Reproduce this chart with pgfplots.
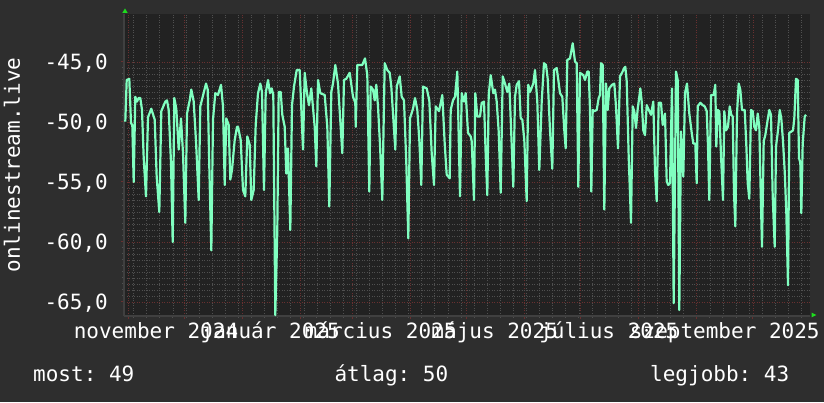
\documentclass[border=0pt]{standalone}
\usepackage{pgfplots}
\pgfplotsset{compat=1.18}
\usepackage{fontspec}
\setmainfont{DejaVu Sans Mono}
\frenchspacing
\definecolor{bgout}{RGB}{46,46,46}
\definecolor{canvas}{RGB}{34,34,34}
\definecolor{linec}{RGB}{128,255,192}
\definecolor{majgrid}{RGB}{105,48,48}
\definecolor{mingrid}{RGB}{80,80,80}
\definecolor{axisc}{RGB}{64,64,64}
\definecolor{arrowc}{RGB}{30,220,30}
\begin{document}
\begin{tikzpicture}[x=1pt,y=1pt]
\fill[bgout] (0,0) rectangle (824,402);
\begin{axis}[
  at={(124pt,86pt)}, anchor=south west,
  scale only axis, width=686pt, height=302pt,
  xmin=124, xmax=810, ymin=-66.17, ymax=-41,
  axis background/.style={fill=canvas},
  axis x line*=bottom, axis y line*=left,
  axis line style={draw=axisc, line width=1.5pt},
  grid=both,
  major grid style={majgrid, dash pattern=on 1pt off 1.5pt, line width=0.7pt},
  minor grid style={mingrid, dash pattern=on 1pt off 1.5pt, line width=0.7pt},
  tick align=outside, major tick length=3pt, minor tick length=2pt,
  major tick style={majgrid, line width=1pt},
  minor tick style={mingrid, line width=1pt},
  xtick={128,184.1,242.1,300.1,352.5,410.5,466.7,524.7,580.8,638.8,696.8,752.9},
  xticklabels={},
  minor xtick={133.61,146.707,...,805},
  extra x ticks={156,270.2,380.6,494.7,608.8,724.8},
  extra x tick labels={november 2024,január 2025,március 2025,május 2025,július 2025,szeptember 2025},
  extra x tick style={grid=none, major tick length=0pt},
  xticklabel style={anchor=base, yshift=-22pt, text=white, font=\fontsize{21}{21}\selectfont},
  ytick={-65,-60,-55,-50,-45},
  yticklabels={{-65,0},{-60,0},{-55,0},{-50,0},{-45,0}},
  minor y tick num=9,
  yticklabel style={anchor=east, inner sep=0pt, xshift=-13pt, yshift=-1.5pt, text=white, font=\fontsize{21}{21}\selectfont},
]
\addplot[linec, line width=2.2pt, line join=round] coordinates {
(125.3,-49.97) (126.7,-46.5) (129.3,-46.4) (131,-50.1) (132.3,-50.25) (133.7,-55.0) (135.3,-47.9) (137,-48.3) (138.7,-48.0) (140.3,-48.0) (142,-49.0) (143.7,-53.0) (146,-56.2) (148,-49.6) (151.3,-48.9) (154.7,-49.8) (156.7,-54.6) (159.3,-57.5) (161.3,-49.1) (165.3,-48.3) (167,-48.2) (168.7,-49.0) (171,-53.4) (172.7,-60.0) (174.3,-48.0) (176.3,-48.9) (178.7,-52.3) (181,-49.7) (183,-52.6) (185.3,-58.4) (187,-49.3) (189.7,-48.2) (191.3,-47.3) (193.7,-48.3) (196,-51.6) (198.7,-56.5) (200.3,-48.7) (202.7,-47.9) (206,-46.8) (207.7,-47.3) (209.3,-53.7) (211.3,-60.7) (213,-49.8) (215.3,-47.6) (218,-47.75) (221,-46.9) (223,-48.7) (224.7,-55.25) (226.3,-49.7) (228.7,-50.25) (230.3,-54.8) (232,-54.0) (234.7,-51.5) (237,-50.4)
(238,-50.4) (240.7,-51.5) (243,-55.67) (245.3,-56.2) (247.3,-51.2) (249.7,-51.9) (251.3,-56.5) (253.7,-55.67) (255.7,-50.25) (258,-47.6) (260.3,-46.8) (262,-47.5) (264,-55.67) (265.7,-47.6) (268,-46.5) (270,-47.6) (271.7,-47.2) (273.3,-47.75) (275.3,-66.1) (277.3,-59.0) (278.7,-47.5) (280.7,-47.5) (282.3,-49.4) (284.7,-50.4) (286.3,-54.3) (288,-52.2) (290.3,-59.0) (292,-48.6) (294,-47.05) (296.7,-45.67) (299.7,-45.67) (303,-52.3) (304.7,-45.9) (307,-47.6) (309,-48.6) (311.3,-47.2) (314.7,-50.4) (316.3,-53.7) (318,-46.5) (320.3,-47.6) (324.7,-47.75) (327.3,-50.4) (329.3,-57.05) (331.3,-47.5) (333,-46.8) (335.3,-45.25) (338,-46.8) (342.3,-52.6) (344,-46.5) (346.3,-46.4) (349.7,-45.9) (353,-47.9) (355.3,-48.4)
(355.7,-50.4) (357.3,-45.25) (362.3,-45.25) (365,-44.7) (367.3,-46.1) (369.3,-55.8) (370.7,-47.05) (373,-47.3) (374.7,-48.2) (376.3,-46.9) (378,-48.7) (380,-51.9) (382.3,-56.5) (384.7,-45.1) (387.3,-45.67) (389.7,-45.9) (391.3,-47.05) (395.3,-52.3) (396.7,-47.05) (399.7,-46.2) (401.7,-47.9) (404,-48.2) (406.3,-53.4) (408.3,-59.7) (410,-49.7) (413,-48.9) (415,-48.0) (417.3,-49.0) (419.3,-51.5) (421.3,-55.25) (423,-47.05) (426.7,-47.2) (429.3,-48.2) (431.7,-52.6) (434,-55.25) (435.7,-48.7) (439,-49.1) (442.3,-47.75) (444.7,-51.8) (446.7,-54.4) (449.7,-54.7) (450.7,-49.0) (453,-48.2) (455,-47.9) (457.3,-45.8) (460,-56.2) (461.7,-47.6) (464,-48.3) (465.7,-47.6) (468,-50.9) (470.7,-51.2)
(471.7,-51.6) (474,-56.5) (475.3,-47.6) (477.3,-49.55) (480,-49.55) (481.7,-48.4) (484,-48.3) (485.7,-52.75) (487.3,-56.1) (488.7,-47.75) (490.7,-46.1) (493.3,-47.6) (495,-47.3) (496.7,-48.3) (498.7,-50.8) (500.7,-55.9) (502.7,-46.2) (505,-46.8) (507.3,-47.5) (509.3,-46.8) (511.7,-51.9) (513.3,-55.4) (515,-47.9) (516.7,-46.9) (519,-46.6) (520.7,-49.7) (522.3,-49.8) (524.3,-51.5) (526.7,-56.6) (528.3,-46.9) (530,-47.5) (533.3,-46.8) (535,-45.67) (537.3,-48.3) (539.3,-54.0) (541.7,-48.3) (544,-45.1) (546,-45.25) (547.7,-46.4) (550,-50.7) (552.3,-53.9) (554,-45.67) (556.7,-45.5) (558.3,-46.5) (560,-47.6) (562.3,-47.9) (564.3,-50.7) (565.7,-52.2) (567.3,-44.83) (570,-44.7) (572.7,-43.44) (575,-44.97) (576.7,-45.1) (578.3,-55.4) (580,-45.9) (583.3,-46.1) (585,-46.5) (587.3,-45.8)
(588.7,-45.8) (590,-49.0) (591.3,-55.8) (592.7,-49.0) (594.3,-49.1) (596.7,-49.0) (598.7,-48.0) (600,-47.75) (601,-45.1) (602.7,-45.25) (604.3,-57.3) (606,-46.8) (607.7,-49.0) (609.3,-47.2) (612,-46.9) (614.3,-46.8) (616,-48.7) (618,-52.2) (620,-46.2) (622,-45.9) (624.3,-45.5) (625.3,-45.4) (626.7,-46.6) (628.7,-52.9) (631,-58.4) (632.7,-48.7) (634.3,-49.1) (636,-50.5) (637.7,-48.9) (639.3,-47.9) (640.3,-47.2) (641.7,-48.3) (643.3,-50.7) (645,-51.1) (646.7,-48.6) (648.3,-48.9) (651,-49.4) (653.3,-48.3) (655,-54.1) (656.7,-56.6) (658.7,-48.4) (661,-48.4) (662.7,-50.25) (665,-49.3) (666.7,-54.97) (668.3,-55.25) (670,-55.1) (672,-47.2) (673.7,-65.1) (676,-45.8) (677.7,-46.5) (679.3,-65.67) (681,-50.8) (683.3,-54.55) (685,-47.6) (687,-46.8) (689.3,-49.3) (691.7,-50.9) (693.3,-51.8) (695.3,-51.8) (696.7,-55.1) (697.7,-48.7) (700.3,-48.4) (702.7,-48.6)
(704.7,-48.7) (706.7,-49.1) (708,-52.05) (709.3,-56.5) (711,-47.75) (713.7,-47.75) (715.3,-46.9) (716.3,-52.05) (717.7,-49.0) (719.3,-49.1) (721,-52.75) (723,-56.5) (724.3,-49.1) (726,-50.7) (728,-50.4) (729.7,-48.7) (731.3,-49.4) (732.7,-49.55) (734,-55.9) (735.3,-58.7) (737,-49.3) (738.7,-46.8) (740.3,-47.3) (742,-49.0) (744.7,-49.0) (746.3,-51.9) (747.7,-55.1) (749.3,-56.4) (751,-49.0) (752.7,-49.1) (754.3,-50.4) (756,-50.7) (757.7,-49.3) (759.3,-50.4) (760.7,-55.9) (762,-60.4) (763.7,-51.6) (765.3,-51.1) (767.7,-49.8) (769.3,-49.0) (771,-49.4) (772.7,-56.2) (774.7,-60.4) (776,-52.05) (778,-50.7) (779.7,-49.0) (781.3,-49.7) (783,-51.6) (784.7,-54.1) (786.3,-57.5) (788,-63.6) (789.3,-50.9) (791.3,-50.8) (793,-50.7) (794.3,-49.7) (796,-46.4) (797.7,-46.5) (799,-53.0) (800.3,-53.4) (801.3,-57.6) (802.7,-51.8) (804.7,-49.55) (806,-49.4)
};
\end{axis}
\fill[arrowc] (122.3,389) -- (127.7,389) -- (125,393.5) -- cycle;
\fill[arrowc] (811.7,89.3) -- (811.7,84.7) -- (816.3,87) -- cycle;
\node[rotate=90, text=white, font=\fontsize{21}{21}\selectfont] at (12,237) {onlinestream.live};
\node[anchor=base west, text=white, font=\fontsize{21}{21}\selectfont, inner sep=0pt] at (33,20.3) {most: 49};
\node[anchor=base west, text=white, font=\fontsize{21}{21}\selectfont, inner sep=0pt] at (334.3,20.3) {átlag: 50};
\node[anchor=base west, text=white, font=\fontsize{21}{21}\selectfont, inner sep=0pt] at (650,20.3) {legjobb: 43};
\pgfresetboundingbox
\useasboundingbox (0,0) rectangle (824,402);
\end{tikzpicture}
\end{document}
